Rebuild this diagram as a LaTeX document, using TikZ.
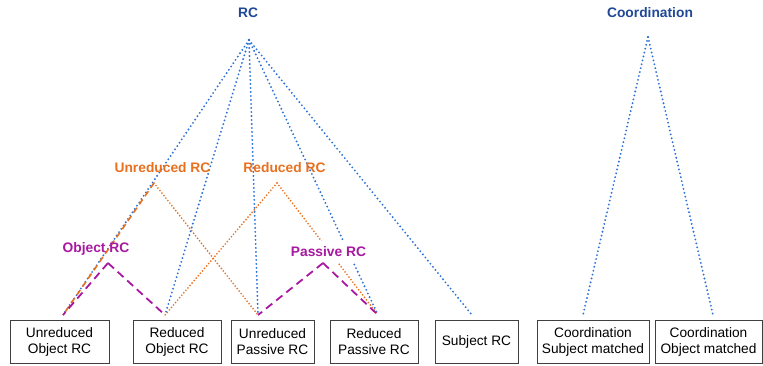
\documentclass[tikz,border=0pt]{standalone}
\usepackage{fontspec}
\setmainfont{Liberation Sans}
\definecolor{rcblue}{RGB}{32,72,150}
\definecolor{lineblue}{RGB}{45,115,215}
\definecolor{rcorange}{RGB}{232,112,30}
\definecolor{rcmagenta}{RGB}{168,24,160}

\begin{document}
\begin{tikzpicture}[x=1pt,y=-1pt,
  leaf/.style={draw=black!75,line width=0.9pt,minimum height=43pt,inner sep=0pt,
    align=center,font=\fontsize{13.7}{16}\selectfont},
  cat/.style={font=\fontsize{13.8}{16}\selectfont\bfseries},
  bluedot/.style={lineblue,line width=2.1pt,line cap=round,dash pattern=on 0pt off 4pt},
  orangedot/.style={rcorange,line width=1.9pt,line cap=round,dash pattern=on 0pt off 3.2pt},
  orangedash/.style={rcorange,line width=1.6pt,dash pattern=on 6pt off 4pt},
  magdash/.style={rcmagenta,line width=1.8pt,dash pattern=on 8pt off 5pt}]
  \useasboundingbox (0,0) rectangle (763,365);

  % Leaves
  \node[leaf,minimum width=99pt]  (uo)  at (59.5,341.5) {Unreduced\\Object RC};
  \node[leaf,minimum width=88pt]  (ro)  at (177,341.5)  {Reduced\\Object RC};
  \node[leaf,minimum width=83pt]  (up)  at (272.5,341.5) {Unreduced\\Passive RC};
  \node[leaf,minimum width=88pt]  (rp)  at (374,341.5)  {Reduced\\Passive RC};
  \node[leaf,minimum width=83pt]  (sub) at (476.5,341.5) {Subject RC};
  \node[leaf,minimum width=112pt] (cs)  at (593,341.5)  {Coordination\\Subject matched};
  \node[leaf,minimum width=107pt] (co)  at (708.5,341.5) {Coordination\\Object matched};

  % Attachment points above the leaves
  \coordinate (uo-t)  at (63,315);
  \coordinate (ro-t)  at (165,315);
  \coordinate (up-t)  at (258,315);
  \coordinate (rp-t)  at (378,315);
  \coordinate (sub-t) at (472,315);
  \coordinate (cs-t)  at (583,315);
  \coordinate (co-t)  at (713,315);

  % Top categories
  \node[cat,text=rcblue] (rc)    at (248,13) {RC};
  \node[cat,text=rcblue] (coord) at (650,13) {Coordination};
  \coordinate (rc-b)    at (249,40);
  \coordinate (coord-b) at (648,37);

  % RC tree
  \foreach \leaf in {uo-t,ro-t,up-t,rp-t,sub-t}
    \draw[bluedot] (rc-b) -- (\leaf);
  \draw[bluedot] (coord-b) -- (cs-t);
  \draw[bluedot] (coord-b) -- (co-t);

  % Reduction
  \node[cat,text=rcorange] (unred) at (162.5,168) {Unreduced RC};
  \node[cat,text=rcorange] (red)   at (284.5,168) {Reduced RC};
  \coordinate (unred-b) at (154,183);
  \coordinate (red-b)   at (277,183);
  \draw[orangedash] (unred-b) -- (uo-t);
  \draw[orangedot]  (unred-b) -- (up-t);
  \draw[orangedot]  (red-b) -- (ro-t);
  \draw[orangedot]  (red-b) -- (rp-t);

  % Object / passive
  \node[cat,text=rcmagenta] (obj) at (96,249) {Object RC};
  \node[cat,text=rcmagenta,fill=white,inner ysep=6pt] (pas) at (328.5,252) {Passive RC};
  \coordinate (obj-b) at (108,263);
  \coordinate (pas-b) at (323,263);
  \draw[magdash] (obj-b) -- (uo-t);
  \draw[magdash] (obj-b) -- (ro-t);
  \draw[magdash] (pas-b) -- (up-t);
  \draw[magdash] (pas-b) -- (rp-t);
\end{tikzpicture}
\end{document}
